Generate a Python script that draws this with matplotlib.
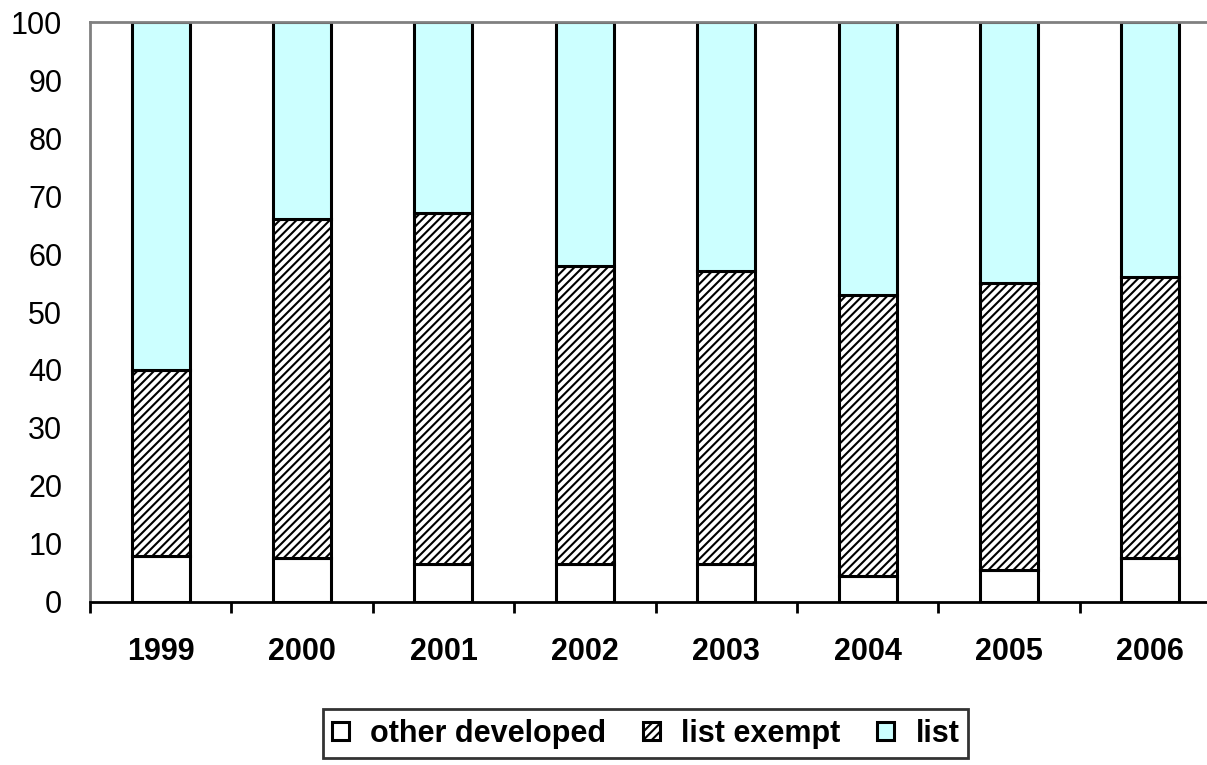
import matplotlib.pyplot as plt
import numpy as np

plt.rcParams['font.family'] = ['Liberation Sans', 'DejaVu Sans']
plt.rcParams['hatch.linewidth'] = 1.5

years = ['1999', '2000', '2001', '2002', '2003', '2004', '2005', '2006']
other_developed = [8, 7.5, 6.5, 6.5, 6.5, 4.5, 5.5, 7.5]
list_exempt = [32, 58.5, 60.5, 51.5, 50.5, 48.5, 49.5, 48.5]
list_share = [60, 34, 33, 42, 43, 47, 45, 44]

fig = plt.figure(figsize=(12.07, 7.65), dpi=100)
ax = fig.add_axes([0.0746, 0.2131, 0.937, 0.7581])

x = np.arange(len(years))
w = 0.41
bottom2 = np.array(other_developed) + np.array(list_exempt)

ax.bar(x, other_developed, w, color='white', edgecolor='black', linewidth=2.2,
       label='other developed')
ax.bar(x, list_exempt, w, bottom=other_developed, color='white', edgecolor='black',
       hatch='////', linewidth=2.2, label='list exempt')
ax.bar(x, list_share, w, bottom=bottom2, color='#CCFFFF', edgecolor='black',
       linewidth=2.2, label='list')

ax.set_xlim(-0.5, 7.5)
ax.set_ylim(0, 100)
ax.set_yticks(np.arange(0, 101, 10))
ax.tick_params(axis='y', length=0, pad=20, labelsize=22)

ax.set_xticks(x)
ax.set_xticklabels(years, fontweight='bold', fontsize=22)
ax.set_xticks(np.arange(-0.5, 7.6, 1), minor=True)
ax.tick_params(axis='x', which='major', length=0, pad=25)
ax.tick_params(axis='x', which='minor', length=8, width=2, direction='out')

ax.spines['left'].set_color('#808080')
ax.spines['left'].set_linewidth(2)
ax.spines['top'].set_color('#808080')
ax.spines['top'].set_linewidth(2)
ax.spines['right'].set_visible(False)
ax.spines['bottom'].set_linewidth(2)

leg = fig.legend(loc='center', bbox_to_anchor=(0.535, 0.041), ncol=3,
                 prop={'weight': 'bold', 'size': 22}, frameon=True, fancybox=False,
                 edgecolor='black', handlelength=0.55, handleheight=0.55,
                 handletextpad=0.7, columnspacing=1.2, borderpad=0.3,
                 borderaxespad=0)
leg.get_frame().set_linewidth(2)

fig.savefig('out.png', dpi=100)
